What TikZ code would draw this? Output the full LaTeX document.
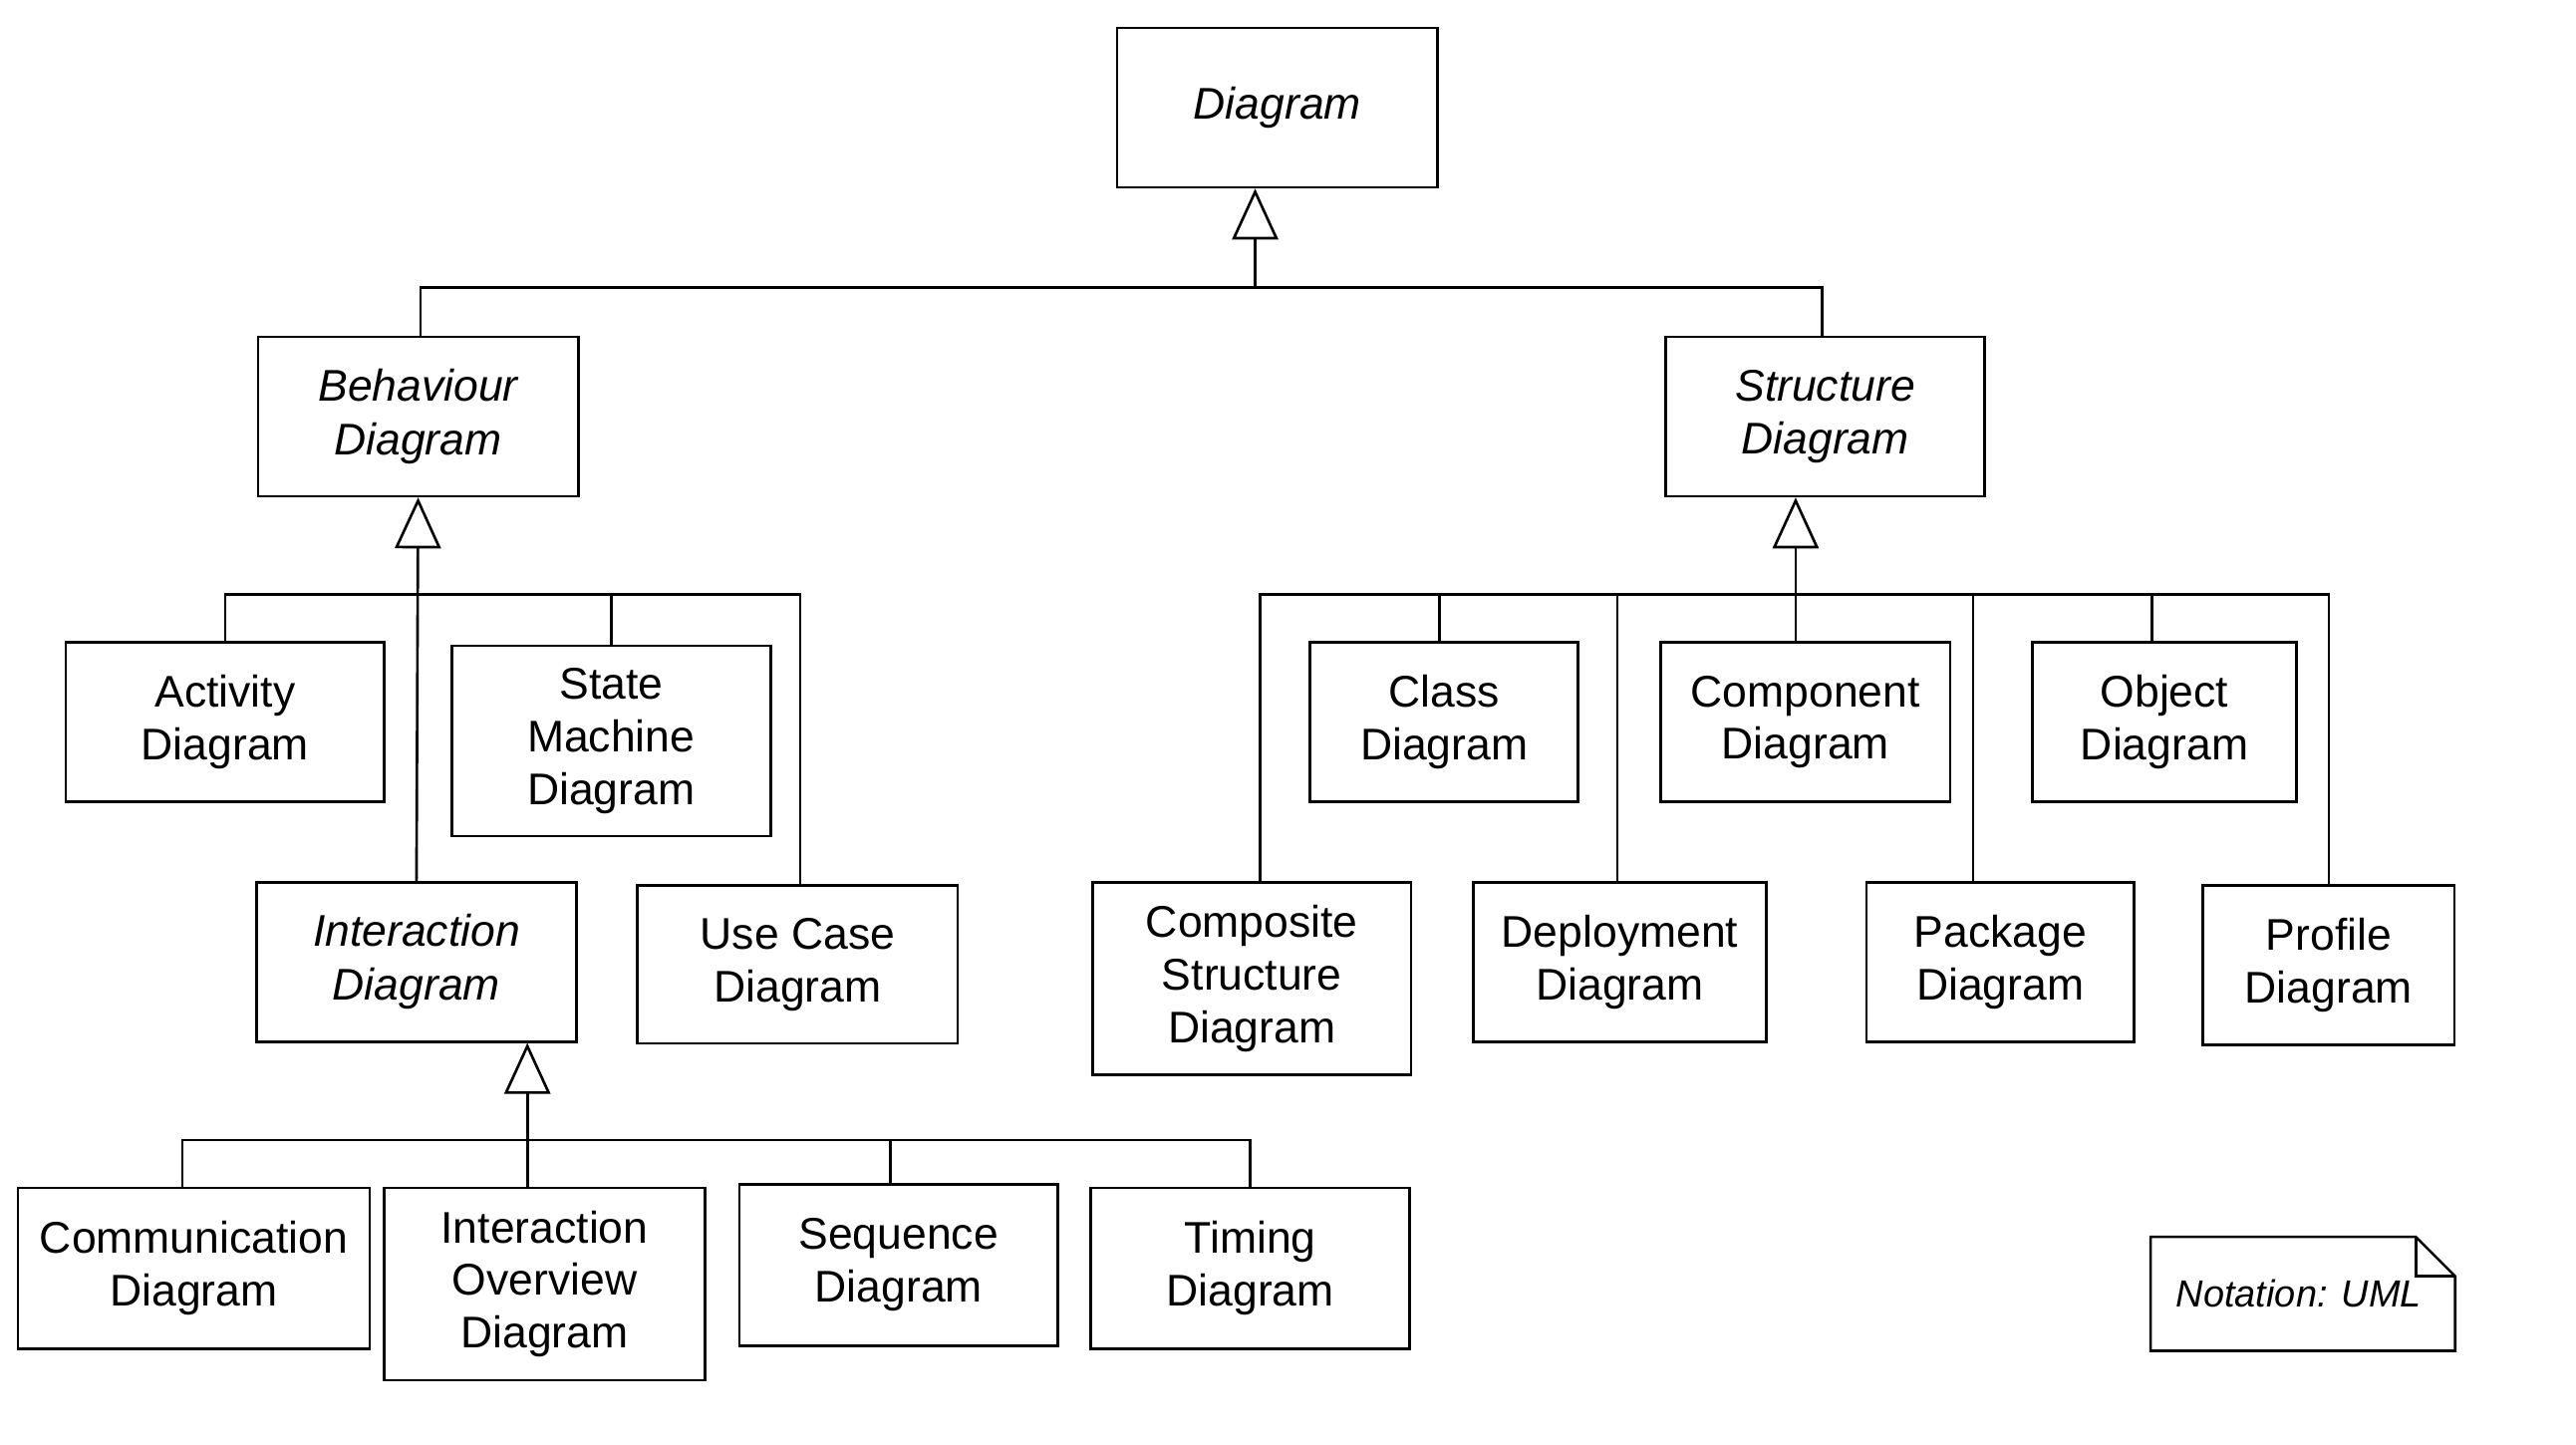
\documentclass[tikz,border=0pt]{standalone}
\usepackage{fontspec}
\setmainfont{Liberation Sans}
\usepackage{xcolor}
\usepackage{tikz}
\usetikzlibrary{arrows.meta, positioning, calc}
\tikzset{
  classbox/.style={rectangle, draw=black, line width=1.6pt, fill=white,
                   align=center, inner sep=0pt, minimum width=195pt,
                   minimum height=97pt, font=\fontsize{27}{32}\selectfont},
  abstractbox/.style={classbox, font=\fontsize{27}{32.5}\selectfont\itshape},
  link/.style={line width=1.6pt, color=black},
  gen/.style={link, -{Triangle[open, length=31pt, width=28pt]}},
  notebox/.style={inner sep=0pt, minimum width=185pt, minimum height=69pt,
                  font=\fontsize{23}{28}\selectfont\itshape}
}
\begin{document}
\begin{tikzpicture}[x=1pt, y=-1pt]
  \useasboundingbox (0,0) rectangle (1568,879);

  %% ── Root ────────────────────────────────────────────────────────────────
  \node[abstractbox] (diagram) at (777.5,65.5) {Diagram};

  %% ── Second level ────────────────────────────────────────────────────────
  \node[abstractbox] (behav) at (254.5,253.5) {Behaviour\\Diagram};
  \node[abstractbox, minimum width=194pt] (struct) at (1111,253.5) {Structure\\Diagram};

  %% ── Behaviour children ──────────────────────────────────────────────────
  \node[classbox, minimum width=194pt] (activity) at (137,439.5) {Activity\\Diagram};
  \node[classbox, minimum width=194pt, minimum height=116pt] (state) at (372,451)
        {State\\Machine\\Diagram};
  \node[abstractbox] (inter) at (253.5,585.5) {Interaction\\Diagram};
  \node[classbox, minimum height=96pt] (usecase) at (485.5,587) {Use Case\\Diagram};

  %% ── Interaction children ────────────────────────────────────────────────
  \node[classbox, minimum width=214pt, minimum height=98pt] (comm) at (118,772)
        {Communication\\Diagram};
  \node[classbox, minimum height=117pt] (over) at (331.5,781.5)
        {Interaction\\Overview\\Diagram};
  \node[classbox, minimum width=194pt, minimum height=98pt] (seq) at (547,770)
        {Sequence\\Diagram};
  \node[classbox, minimum width=194pt, minimum height=98pt] (timing) at (761,772)
        {Timing\\Diagram};

  %% ── Structure children ──────────────────────────────────────────────────
  \node[classbox, minimum width=163pt] (class) at (879,439.5) {Class\\Diagram};
  \node[classbox, minimum width=176pt] (comp) at (1099,439.5) {Component\\Diagram};
  \node[classbox, minimum width=161pt] (object) at (1317.5,439.5) {Object\\Diagram};
  \node[classbox, minimum width=194pt, minimum height=117pt] (compo) at (762,595.5)
        {Composite\\Structure\\Diagram};
  \node[classbox, minimum width=178pt] (deploy) at (986,585.5) {Deployment\\Diagram};
  \node[classbox, minimum width=163pt] (package) at (1217.5,585.5) {Package\\Diagram};
  \node[classbox, minimum width=153pt] (profile) at (1417.5,587.5) {Profile\\Diagram};

  %% ── Note ────────────────────────────────────────────────────────────────
  \node[notebox] (note) at (1401.75,787.5) {\hspace*{-5pt}Notation: UML};
  \draw[link] (note.north west) -- ([xshift=-24pt]note.north east)
        -- ([yshift=-24pt]note.north east) -- (note.south east)
        -- (note.south west) -- cycle;
  \draw[link] ([xshift=-24pt]note.north east) |- ([yshift=-24pt]note.north east);

  %% ── Generalisations ─────────────────────────────────────────────────────
  \coordinate (topbar) at (764,175);
  \coordinate (behavtop) at ([xshift=1.5pt]behav.north);
  \coordinate (structtop) at ([xshift=-2pt]struct.north);
  \draw[gen] (topbar) -- (topbar |- diagram.south);
  \draw[link] (behavtop) |- (topbar) -| (structtop);

  % behaviour
  \coordinate (bbar) at (254,362);
  \draw[gen] (inter.north) -- (behav.south);
  \draw[link] (activity.north) |- (bbar) -| ([xshift=1.5pt]usecase.north);
  \draw[link] (state.north) -- (state.north |- bbar);

  % interaction
  \coordinate (ibar) at (321,694);
  \coordinate (commtop) at ([xshift=-7pt]comm.north);
  \coordinate (seqtop) at ([xshift=-5pt]seq.north);
  \draw[gen] (ibar |- over.north) -- (ibar |- inter.south);
  \draw[link] (commtop) |- (ibar) -| (timing.north);
  \draw[link] (seqtop) -- (seqtop |- ibar);

  % structure
  \coordinate (sbar) at (1093,362);
  \coordinate (compotop) at ([xshift=5pt]compo.north);
  \coordinate (classtop) at ([xshift=-3pt]class.north);
  \coordinate (packtop) at ([xshift=-16.5pt]package.north);
  \coordinate (objtop) at ([xshift=-7.5pt]object.north);
  \draw[gen] (sbar |- comp.north) -- (sbar |- struct.south);
  \draw[link] (compotop) |- (sbar) -| (profile.north);
  \draw[link] (classtop) -- (classtop |- sbar);
  \draw[link] ([xshift=-1.5pt]deploy.north) -- ([xshift=-1.5pt]deploy.north |- sbar);
  \draw[link] (packtop) -- (packtop |- sbar);
  \draw[link] (objtop) -- (objtop |- sbar);

\end{tikzpicture}
\end{document}
